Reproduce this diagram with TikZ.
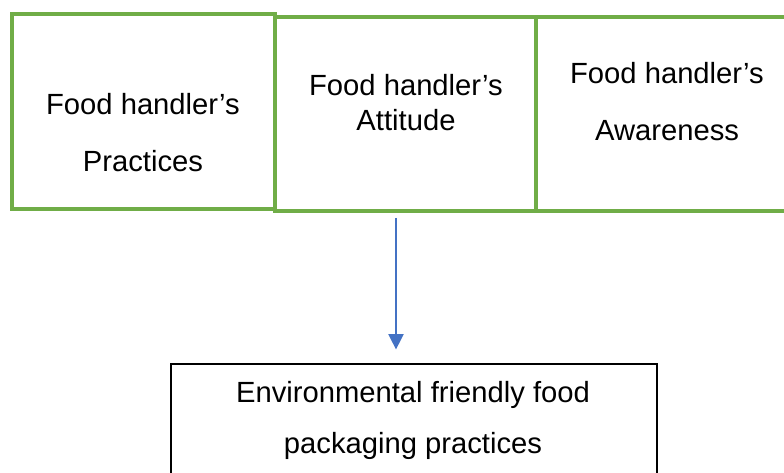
\documentclass[tikz,border=0pt]{standalone}
\usepackage{fontspec}
\setmainfont{Liberation Sans}
\usetikzlibrary{arrows.meta}

\definecolor{boxgreen}{HTML}{70AD47}
\definecolor{arrowblue}{HTML}{4472C4}

\tikzset{
    greenbox/.style={draw=boxgreen, line width=2.3pt, inner sep=0pt},
    blackbox/.style={draw=black, line width=0.9pt, inner sep=0pt},
    boxtext/.style={align=center, inner sep=0pt,
        font=\fontsize{21.9}{26.25}\selectfont},
    flow/.style={draw=arrowblue, line width=0.9pt,
        -{Triangle[width=11.5pt,length=11.5pt]}}
}

\begin{document}
\begin{tikzpicture}[x=0.75pt,y=-0.75pt]

    \clip (0,0) rectangle (784,473);
    \fill[white] (0,0) rectangle (784,473);

    % three factor boxes
    \node[greenbox, minimum width=263*0.75pt, minimum height=195*0.75pt]
        (practices) at (143.5, 111.5) {};
    \node[greenbox, minimum width=261*0.75pt, minimum height=194*0.75pt]
        (attitude) at (405.5, 114) {};
    \node[greenbox, minimum width=270*0.75pt, minimum height=194*0.75pt]
        (awareness) at (671, 114) {};

    \node[boxtext] (practicesText) at (143, 133)
        {Food handler’s\\[16.5pt]Practices};
    \node[boxtext] (attitudeText) at (406, 102.5)
        {Food handler’s\\Attitude};
    \node[boxtext] (awarenessText) at (667, 101.5)
        {Food handler’s\\[16.5pt]Awareness};

    % outcome box
    \node[blackbox, minimum width=486*0.75pt, minimum height=140*0.75pt]
        (packaging) at (414, 434) {};
    \node[boxtext] (packagingText) at (413, 420.5)
        {Environmental friendly food\\[12pt]packaging practices};

    % arrow
    \coordinate (arrowtop) at (396, 218);
    \draw[flow] (arrowtop) -- ([yshift=14*0.75pt]arrowtop |- packaging.north);

\end{tikzpicture}
\end{document}
